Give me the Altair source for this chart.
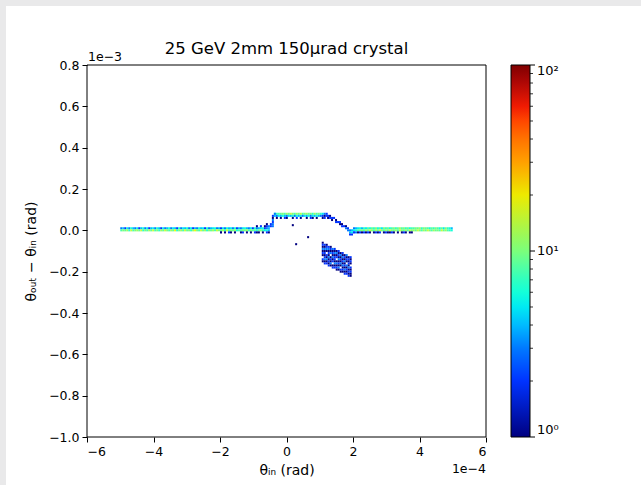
import altair as alt
import pandas as pd

# bin size (x in units of 1e-4 rad, y in units of 1e-3 rad)
DX = 0.06
DY = 0.01

# count codes used in the strings below
CODE = {'.': 0, '1': 1, '2': 2, '3': 3, '4': 4, '5': 5, '6': 6, '7': 7, '8': 8, '9': 9,
        'a': 10, 'b': 12, 'c': 15, 'd': 18, 'e': 22, 'f': 27, 'g': 35}

# horizontal runs: row y, first bin x, counts along x
ROW_Y = [0.01, 0.00, -0.01, 0.02, 0.03,
         0.08, 0.07, 0.06,
         0.01, 0.00, -0.01]
ROW_X0 = [-5.0, -5.0, -2.0, -0.92, -0.74,
          -0.38, -0.38, -0.32,
          2.0, 2.0, 2.0]
ROW_COUNTS = [
    "342536435246352" "453642534635426" "354635243645263" "456342536453624" "356435263456234",
    "8a9b7c8ab9c7a8b" "9c8a7b9ca8b9d7a" "b8c9a7bda8c9b7a" "9b8ca9b7c8a9b68" "8a9b7a8969a7564",
    "1.1.21.1..12.1.1.211.1.21",
    "1.2.1232",
    "..1.2",
    "6789a8b9ca8b9c8ab9a7b8a7532",
    "435464354636453546354643212",
    "1.1.21..1.2.1..1.21.1..12",
    "3456475869" "7a685a7968" "a79b8a7968" "8a9b7a9869" "7a8695a764",
    "5689a8b9ca" "8b9ca8b9ca" "9b8ca9b8ca" "b9ca8b9ca8" "b9a8c9b876",
    "231212121.1212.121121.1.121.11",
]

# vertical runs: column x, top bin y, counts going down
COL_X = [-0.44, -0.38,
         1.22, 1.28, 1.34, 1.40, 1.46, 1.52, 1.58, 1.64, 1.70, 1.76, 1.82, 1.88, 1.94,
         1.06, 1.12, 1.18, 1.24, 1.30, 1.36, 1.42, 1.48, 1.54, 1.60, 1.66, 1.72, 1.78, 1.84, 1.90]
COL_YTOP = [0.07, 0.08,
            0.07, 0.07, 0.06, 0.06, 0.05, 0.04, 0.04, 0.03, 0.02, 0.02, 0.01, 0.00, 0.00,
            -0.06, -0.07, -0.07, -0.08, -0.08, -0.09, -0.09, -0.10, -0.10, -0.11, -0.11,
            -0.12, -0.12, -0.13, -0.13]
COL_COUNTS = ["213233", "3",
              "21", "12", "21", "2", "12", "2", "21", "12", "2", "13", "23", "342", "452",
              "1213121.21", "2131212312", "1231.21312", "2312131212", "1213.12131",
              "3121312.12", "2131221312", "1312.13121", "2121312131", "1312131.21",
              "2131213121", "1213121312", "3121.31212", "1212131212", "2121.21211"]

# isolated single bins
PT_X = [0.19, 0.29, 0.65]
PT_Y = [0.025, -0.067, -0.033]
PT_C = [1, 1, 1]

# colorbar tick values (log scale)
CB_MAJOR = [1, 10, 100]
CB_MINOR = [2, 3, 4, 5, 6, 7, 8, 9, 20, 30, 40, 50, 60, 70, 80, 90]

cells = []
for y, x0, s in zip(ROW_Y, ROW_X0, ROW_COUNTS):
    for i, ch in enumerate(s):
        c = CODE[ch]
        if c:
            xa = x0 + i * DX
            cells.append((xa, xa + DX, y - DY / 2, y + DY / 2, c))
for x, yt, s in zip(COL_X, COL_YTOP, COL_COUNTS):
    for j, ch in enumerate(s):
        c = CODE[ch]
        if c:
            yy = yt - j * DY
            cells.append((x, x + DX, yy - DY / 2, yy + DY / 2, c))
for x, y, c in zip(PT_X, PT_Y, PT_C):
    cells.append((x - DX / 2, x + DX / 2, y - DY / 2, y + DY / 2, c))

df = pd.DataFrame(cells, columns=["x", "x2", "y", "y2", "count"])

JET_DOMAIN = [1, 1.778, 3.162, 5.623, 10, 17.78, 31.62, 56.23, 100]
JET_RANGE = ["#000080", "#0000ff", "#0080ff", "#14ffe2", "#7bff7b",
             "#e2ff15", "#ff9700", "#ff2000", "#800000"]

FONT = "DejaVu Sans"
W, H = 399, 372
LEFT, TOP = 87, 65
CB_X = 424      # colorbar left edge, relative to the plot
CB_W = 19

one = pd.DataFrame({"a": [0]})

bg = alt.Chart(one).mark_rect(color="white").encode(
    x=alt.value(6 - LEFT), x2=alt.value(641 - LEFT),
    y=alt.value(6 - TOP), y2=alt.value(485 - TOP))

heat = alt.Chart(df).mark_rect(strokeWidth=0).encode(
    x=alt.X("x:Q", scale=alt.Scale(domain=[-6, 6], nice=False),
            axis=alt.Axis(values=[-6, -4, -2, 0, 2, 4, 6], format="d",
                          labelExpr="replace(datum.label, '-', '−')",
                          title="θᵢₙ (rad)", titlePadding=6, zindex=1)),
    x2="x2:Q",
    y=alt.Y("y:Q", scale=alt.Scale(domain=[-1.0, 0.8], nice=False),
            axis=alt.Axis(values=[-1.0, -0.8, -0.6, -0.4, -0.2, 0.0, 0.2, 0.4, 0.6, 0.8],
                          format=".1f", labelExpr="replace(datum.label, '-', '−')",
                          title="θₒᵤₜ − θᵢₙ (rad)", titlePadding=10, zindex=1)),
    y2="y2:Q",
    color=alt.Color("count:Q",
                    scale=alt.Scale(type="log", domain=JET_DOMAIN, range=JET_RANGE),
                    legend=alt.Legend(orient="none", legendX=CB_X, legendY=0,
                                      direction="vertical", title=None,
                                      gradientLength=H, gradientThickness=CB_W,
                                      gradientStrokeColor="black", gradientStrokeWidth=1,
                                      values=CB_MAJOR,
                                      labelExpr="datum.value == 1 ? '10⁰' : datum.value == 10 ? '10¹' : '10²'",
                                      labelFont=FONT, labelFontSize=13, labelColor="black",
                                      labelOffset=7, padding=0, zindex=1)),
)

cb_scale = alt.Scale(type="log", domain=[1, 100], nice=False)
cb_major = alt.Chart(pd.DataFrame({"v": CB_MAJOR})).mark_rule(color="black", strokeWidth=1).encode(
    y=alt.Y("v:Q", scale=cb_scale, axis=None),
    x=alt.value(CB_X + CB_W), x2=alt.value(CB_X + CB_W + 5))
cb_minor = alt.Chart(pd.DataFrame({"v": CB_MINOR})).mark_rule(color="black", strokeWidth=0.8).encode(
    y=alt.Y("v:Q", scale=cb_scale, axis=None),
    x=alt.value(CB_X + CB_W), x2=alt.value(CB_X + CB_W + 3))

frame = alt.Chart(one).mark_rect(fill=None, stroke="black", strokeWidth=1).encode(
    x=alt.value(0), x2=alt.value(W), y=alt.value(0), y2=alt.value(H))

title = alt.Chart(pd.DataFrame({"t": ["25 GeV 2mm 150μrad crystal"]})).mark_text(
    font=FONT, fontSize=16.5, align="center", baseline="alphabetic", color="black"
).encode(text="t:N", x=alt.value(W / 2), y=alt.value(-11))

off_y = alt.Chart(pd.DataFrame({"t": ["1e−3"]})).mark_text(
    font=FONT, fontSize=12.5, align="left", baseline="alphabetic", color="black"
).encode(text="t:N", x=alt.value(1), y=alt.value(-4))

off_x = alt.Chart(pd.DataFrame({"t": ["1e−4"]})).mark_text(
    font=FONT, fontSize=12.5, align="right", baseline="alphabetic", color="black"
).encode(text="t:N", x=alt.value(W), y=alt.value(H + 36))

chart = alt.layer(bg, heat, frame, title, off_y, off_x, cb_major, cb_minor).resolve_scale(
    y="independent"
).properties(
    width=W, height=H,
    padding={"left": LEFT, "top": TOP, "right": 641 - LEFT - W, "bottom": 485 - TOP - H},
    autosize=alt.AutoSizeParams(type="none"),
).configure(background="#e9e9ea").configure_view(
    stroke=None
).configure_axis(
    labelFont=FONT, labelFontSize=12.5, labelColor="black",
    titleFont=FONT, titleFontSize=14, titleColor="black", titleFontWeight="normal",
    tickColor="black", tickSize=5, tickWidth=1, labelPadding=3,
    domain=False, grid=False,
)

chart.save("out.html", embed_options={"renderer": "svg", "actions": False})
